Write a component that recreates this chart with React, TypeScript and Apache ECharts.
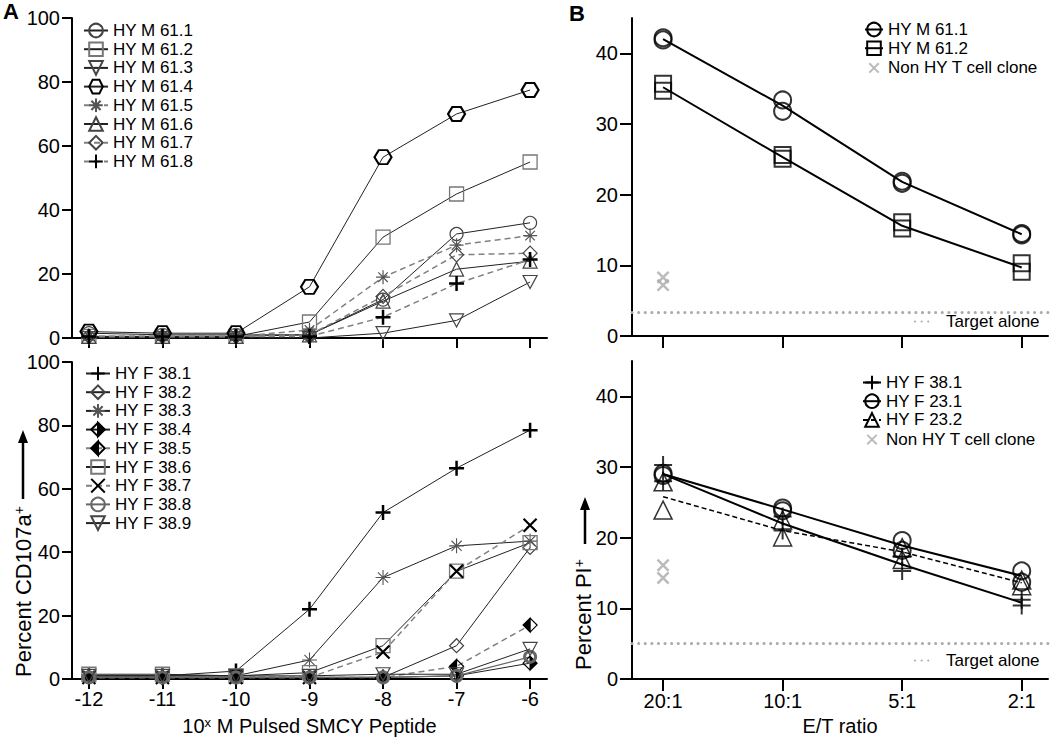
import React, { useEffect, useRef } from 'react';
import * as echarts from 'echarts';

// ---------- Panel A data (percent CD107a+) ----------
const EXPONENTS = [-12, -11, -10, -9, -8, -7, -6];

const M61_1 = [1.5, 1, 1, 1, 12, 32.5, 36];
const M61_2 = [0.5, 0.5, 0.5, 5, 31.5, 45, 55];
const M61_3 = [0, 0, 0, 0, 1.5, 5.5, 17.5];
const M61_4 = [2, 1.5, 1.5, 16, 56.5, 70, 77.5];
const M61_5 = [0.5, 0.5, 0.5, 2.5, 19, 29, 32];
const M61_6 = [0.5, 0.5, 0.5, 1, 11.5, 21.5, 24];
const M61_7 = [0.5, 0.5, 0.5, 1, 13, 26, 26.5];
const M61_8 = [0.5, 0.5, 0.5, 0.5, 6.5, 17, 24.5];

const F38_1 = [1, 1, 2.5, 22, 52.5, 66.5, 78.5];
const F38_2 = [0.5, 0.5, 0.5, 0.5, 0.5, 10.5, 41.5];
const F38_3 = [1, 1, 1, 6, 32, 42, 43.5];
const F38_4 = [0.5, 0.5, 0.5, 0.5, 0.5, 1, 5];
const F38_5 = [0.5, 0.5, 0.5, 0.5, 0.5, 4, 17];
const F38_6 = [1.5, 1.5, 1, 2, 10.5, 34, 43];
const F38_7 = [0.5, 0.5, 0.5, 0.5, 8.5, 34, 48.5];
const F38_8 = [0.5, 0.5, 0.5, 0.5, 0.5, 1, 7];
const F38_9 = [1, 1, 1, 1, 1.5, 1.5, 9.5];

// ---------- Panel B data (percent PI+) ----------
const ET_RATIOS = ['20:1', '10:1', '5:1', '2:1'];

const B_M61_1_LINE = [42, 32.6, 21.8, 14.4];
const B_M61_1_REP1 = [42.2, 33.4, 21.9, 14.5];
const B_M61_1_REP2 = [41.9, 31.8, 21.6, 14.3];
const B_M61_2_LINE = [35.2, 25.3, 15.6, 9.7];
const B_M61_2_REP1 = [35.7, 25.6, 16.1, 10.3];
const B_M61_2_REP2 = [34.7, 25.1, 15.2, 9.1];
const B_TOP_NONHY = [8.3, 7.2];
const B_TOP_TARGET = 3.4;

const B_F38_1_LINE = [29, 22, 16.2, 10.8];
const B_F38_1_REP1 = [30.3, 23, 17.3, 11.2];
const B_F38_1_REP2 = [28, 21, 15.3, 10.4];
const B_F23_1_LINE = [29, 24, 18.9, 14.6];
const B_F23_1_REP1 = [29.1, 24.2, 19.6, 15.3];
const B_F23_1_REP2 = [28.8, 23.8, 18.2, 13.7];
const B_F23_2_LINE = [25.8, 21, 18, 13.6];
const B_F23_2_REP1 = [27.9, 22.5, 18.6, 14];
const B_F23_2_REP2 = [23.9, 20.1, 16.9, 13.2];
const B_BOT_NONHY = [16.1, 14.3];
const B_BOT_TARGET = 5;

const B_TICKS_Y = [0, 10, 20, 30, 40];
const B_TICKS_X = [0, 1, 2, 3];

const FONT = "'Liberation Sans', Arial, Helvetica, sans-serif";

const SYM = {
  hexagon: 'path://M0 5L3 0L9 0L12 5L9 10L3 10Z',
  triDown: 'path://M0 0L10 0L5 9Z',
  asterisk: 'path://M5 0L5 10M0 5L10 5M1.6 1.6L8.4 8.4M8.4 1.6L1.6 8.4',
  plus: 'path://M5 0L5 10M0 5L10 5',
  cross: 'path://M0 0L10 10M10 0L0 10',
  smallCross: 'path://M-4 -4L-4 -4M14 14L14 14M0 0L10 10M10 0L0 10',
  diamondR: 'path://M5 0L10 5L5 10ZM5 0L0 5L5 10L0 5Z',
  diamondL: 'path://M5 0L0 5L5 10ZM5 0L10 5L5 10L10 5Z',
};

const SOLID = { color: '#222', width: 1, type: 'solid' };
const DASH = { color: '#808080', width: 1.5, type: [6, 4] };

function aSeries(name: string, vals: number[], grid: number, symbol: string, size: any,
  border: string, bw: number, fill: string, line: any) {
  return {
    type: 'line', name, xAxisIndex: grid, yAxisIndex: grid,
    data: EXPONENTS.map((x, i) => [x, vals[i]]),
    symbol, symbolSize: size, showSymbol: true,
    itemStyle: { color: fill, borderColor: border, borderWidth: bw },
    lineStyle: line,
    emphasis: { disabled: true },
    z: 3,
  };
}

function bLine(name: string, vals: number[], grid: number, symbol: string, size: any, bw: number, line: any) {
  return {
    type: 'line', name, xAxisIndex: grid, yAxisIndex: grid,
    data: vals.map((v, i) => [i, v]),
    symbol, symbolSize: size, showSymbol: false,
    itemStyle: { color: 'transparent', borderColor: '#000', borderWidth: bw },
    lineStyle: line,
    emphasis: { disabled: true },
    z: 3,
  };
}

function bReps(name: string, reps: number[][], grid: number, symbol: string, size: any, bw: number) {
  return {
    type: 'scatter', name, xAxisIndex: grid, yAxisIndex: grid,
    data: reps.flatMap((r) => r.map((v, i) => [i, v])),
    symbol, symbolSize: size,
    itemStyle: { color: 'transparent', borderColor: '#000', borderWidth: bw },
    emphasis: { disabled: true },
    z: 4,
  };
}

function nonHy(name: string, vals: number[], grid: number) {
  return {
    type: 'scatter', name, xAxisIndex: grid, yAxisIndex: grid,
    data: vals.map((v) => [0, v]),
    symbol: SYM.smallCross, symbolSize: 20,
    itemStyle: { color: 'transparent', borderColor: '#aaa', borderWidth: 2.5 },
    emphasis: { disabled: true },
    z: 4,
  };
}

const DOT = { color: '#aaa', width: 3, type: [0.1, 6.5], cap: 'round' };

function target(name: string, value: number, grid: number) {
  return {
    type: 'line', name, xAxisIndex: grid, yAxisIndex: grid,
    data: [], symbol: 'none',
    itemStyle: { color: 'transparent', borderWidth: 0 },
    lineStyle: DOT,
    markLine: {
      silent: true, symbol: ['none', 'none'], label: { show: false },
      lineStyle: DOT, emphasis: { disabled: true },
      data: [{ yAxis: value }],
    },
    z: 1,
  };
}

const axisLine = { onZero: false, lineStyle: { color: '#000', width: 2 } };
const tickStyle = { color: '#000', width: 2 };
const labelStyle = { fontSize: 20, color: '#000', fontFamily: FONT };

function aX(grid: number, showLabel: boolean) {
  return {
    type: 'value', gridIndex: grid, min: -12.23, max: -5.77,
    axisLine,
    axisTick: { show: true, length: 10, lineStyle: tickStyle, customValues: EXPONENTS },
    axisLabel: { show: showLabel, customValues: EXPONENTS, margin: 10, ...labelStyle },
    splitLine: { show: false },
    ...(showLabel ? {
      name: '10{sup|x} M Pulsed SMCY Peptide', nameLocation: 'middle', nameGap: 37,
      nameTextStyle: {
        fontSize: 20, color: '#000', fontFamily: FONT,
        rich: { sup: { fontSize: 13, color: '#000', fontFamily: FONT, verticalAlign: 'top', lineHeight: 13 } },
      },
    } : {}),
  };
}
function aY(grid: number) {
  return {
    type: 'value', gridIndex: grid, min: 0, max: 100, interval: 20,
    axisLine,
    axisTick: { show: true, length: 10, lineStyle: tickStyle },
    axisLabel: { margin: 12, ...labelStyle },
    splitLine: { show: false },
  };
}
function bX(grid: number, showLabel: boolean) {
  return {
    type: 'value', gridIndex: grid, min: -0.26, max: 3.22,
    axisLine,
    axisTick: { show: true, length: 12, lineStyle: tickStyle, customValues: B_TICKS_X },
    axisLabel: {
      show: showLabel, customValues: B_TICKS_X, margin: 12, ...labelStyle,
      formatter: (v: number) => ET_RATIOS[Math.round(v)] ?? '',
    },
    splitLine: { show: false },
    ...(showLabel ? {
      name: 'E/T ratio', nameLocation: 'middle', nameGap: 37,
      nameTextStyle: { fontSize: 20, color: '#000', fontFamily: FONT },
    } : {}),
  };
}
function bY(grid: number) {
  return {
    type: 'value', gridIndex: grid, min: 0, max: 45,
    axisLine,
    axisTick: { show: true, length: 12, lineStyle: tickStyle, customValues: B_TICKS_Y },
    axisLabel: { margin: 14, customValues: B_TICKS_Y, ...labelStyle },
    splitLine: { show: false },
  };
}

const fmt = (n: string) => n.split('|')[1];
const legendText = { fontSize: 17, color: '#000', fontFamily: FONT, lineHeight: 17 };

function legend(data: string[], left: number, top: number, itemWidth: number, extra: any = {}) {
  return {
    data, left, top, orient: 'vertical', itemWidth, itemHeight: 17, itemGap: 1.7,
    selectedMode: false, formatter: fmt, textStyle: { ...legendText, ...(extra.textStyle || {}) },
    padding: 0,
  };
}

export default function App() {
  const ref = useRef<HTMLDivElement>(null);
  useEffect(() => {
    const chart = echarts.init(ref.current!, null, { renderer: 'svg' });
    const supRich = { sup: { fontSize: 14, color: '#000', fontFamily: FONT, verticalAlign: 'top', lineHeight: 14 } };
    const option: any = {
      animation: false,
      grid: [
        { left: 72, top: 18, width: 475, height: 320 },
        { left: 72, top: 362, width: 475, height: 317 },
        { left: 632, top: 18, width: 416, height: 318 },
        { left: 632, top: 361, width: 416, height: 318 },
      ],
      xAxis: [aX(0, false), aX(1, true), bX(2, false), bX(3, true)],
      yAxis: [aY(0), aY(1), bY(2), bY(3)],
      legend: [
        legend(['a1|HY M 61.1', 'a2|HY M 61.2', 'a3|HY M 61.3', 'a4|HY M 61.4', 'a5|HY M 61.5', 'a6|HY M 61.6', 'a7|HY M 61.7', 'a8|HY M 61.8'], 83, 22, 24),
        legend(['f1|HY F 38.1', 'f2|HY F 38.2', 'f3|HY F 38.3', 'f4|HY F 38.4', 'f5|HY F 38.5', 'f6|HY F 38.6', 'f7|HY F 38.7', 'f8|HY F 38.8', 'f9|HY F 38.9'], 85, 365, 24),
        legend(['b1|HY M 61.1', 'b2|HY M 61.2', 'b3|Non HY T cell clone'], 864, 21, 18),
        legend(['c1|HY F 38.1', 'c2|HY F 23.1', 'c3|HY F 23.2', 'c4|Non HY T cell clone'], 862, 374, 18),
        legend(['t1|Target alone'], 914, 313, 16, { textStyle: { padding: [0, 0, 0, 10] } }),
        legend(['t2|Target alone'], 914, 652, 16, { textStyle: { padding: [0, 0, 0, 10] } }),
      ],
      series: [
        aSeries('a1|HY M 61.1', M61_1, 0, 'circle', 13, '#444', 1.2, 'transparent', SOLID),
        aSeries('a2|HY M 61.2', M61_2, 0, 'rect', 14, '#777', 1.3, 'transparent', SOLID),
        aSeries('a3|HY M 61.3', M61_3, 0, SYM.triDown, [14, 13], '#444', 1.2, 'transparent', SOLID),
        aSeries('a4|HY M 61.4', M61_4, 0, SYM.hexagon, [17, 14], '#000', 2, 'transparent', SOLID),
        aSeries('a5|HY M 61.5', M61_5, 0, SYM.asterisk, 14, '#555', 1.2, 'transparent', DASH),
        aSeries('a6|HY M 61.6', M61_6, 0, 'triangle', 14, '#444', 1.2, 'transparent', SOLID),
        aSeries('a7|HY M 61.7', M61_7, 0, 'diamond', 14, '#444', 1.2, 'transparent', DASH),
        aSeries('a8|HY M 61.8', M61_8, 0, SYM.plus, 15, '#000', 2.5, 'transparent', DASH),

        aSeries('f1|HY F 38.1', F38_1, 1, SYM.plus, 15, '#000', 2.5, 'transparent', SOLID),
        aSeries('f2|HY F 38.2', F38_2, 1, 'diamond', 14, '#444', 1.2, 'transparent', SOLID),
        aSeries('f3|HY F 38.3', F38_3, 1, SYM.asterisk, 15, '#555', 1.1, 'transparent', SOLID),
        aSeries('f4|HY F 38.4', F38_4, 1, SYM.diamondR, 14, '#000', 1.2, '#000', SOLID),
        aSeries('f5|HY F 38.5', F38_5, 1, SYM.diamondL, 14, '#000', 1.2, '#000', DASH),
        aSeries('f6|HY F 38.6', F38_6, 1, 'rect', 14, '#777', 1.3, 'transparent', SOLID),
        aSeries('f7|HY F 38.7', F38_7, 1, SYM.cross, 13, '#000', 2.2, 'transparent', DASH),
        aSeries('f8|HY F 38.8', F38_8, 1, 'circle', 11, '#666', 3, 'transparent', { color: '#666', width: 1.2, type: 'solid' }),
        aSeries('f9|HY F 38.9', F38_9, 1, SYM.triDown, [14, 13], '#444', 1.2, 'transparent', SOLID),

        target('t1|Target alone', B_TOP_TARGET, 2),
        bLine('b1|HY M 61.1', B_M61_1_LINE, 2, 'circle', 17, 2, { color: '#000', width: 2 }),
        bLine('b2|HY M 61.2', B_M61_2_LINE, 2, 'rect', 16, 2, { color: '#000', width: 2 }),
        bReps('r_b1', [B_M61_1_REP1, B_M61_1_REP2], 2, 'circle', 17, 2),
        bReps('r_b2', [B_M61_2_REP1, B_M61_2_REP2], 2, 'rect', 16, 2),
        nonHy('b3|Non HY T cell clone', B_TOP_NONHY, 2),

        target('t2|Target alone', B_BOT_TARGET, 3),
        bLine('c1|HY F 38.1', B_F38_1_LINE, 3, SYM.plus, 18, 2, { color: '#000', width: 2 }),
        bLine('c2|HY F 23.1', B_F23_1_LINE, 3, 'circle', 17, 2, { color: '#000', width: 2 }),
        bLine('c3|HY F 23.2', B_F23_2_LINE, 3, 'triangle', 18, 1.5, { color: '#000', width: 1.5, type: [5, 3] }),
        bReps('r_c1', [B_F38_1_REP1, B_F38_1_REP2], 3, SYM.plus, 18, 2),
        bReps('r_c2', [B_F23_1_REP1, B_F23_1_REP2], 3, 'circle', 17, 2),
        bReps('r_c3', [B_F23_2_REP1, B_F23_2_REP2], 3, 'triangle', 18, 1.5),
        nonHy('c4|Non HY T cell clone', B_BOT_NONHY, 3),
      ],
      graphic: [
        { type: 'text', x: 3, y: 0, style: { text: 'A', font: `bold 22px ${FONT}`, fill: '#000', verticalAlign: 'top' } },
        { type: 'text', x: 569, y: 2, style: { text: 'B', font: `bold 22px ${FONT}`, fill: '#000', verticalAlign: 'top' } },
        {
          type: 'text', x: 23, y: 677, rotation: Math.PI / 2,
          style: { text: 'Percent CD107a{sup|+}', rich: supRich, font: `22px ${FONT}`, fontSize: 22, fontFamily: FONT, fill: '#000', align: 'left', verticalAlign: 'middle' },
        },
        { type: 'line', shape: { x1: 23, y1: 499, x2: 23, y2: 440 }, style: { stroke: '#000', lineWidth: 2.5 } },
        { type: 'polygon', shape: { points: [[18, 443], [28, 443], [23, 430]] }, style: { fill: '#000' } },
        {
          type: 'text', x: 583, y: 670, rotation: Math.PI / 2,
          style: { text: 'Percent PI{sup|+}', rich: supRich, font: `22px ${FONT}`, fontSize: 22, fontFamily: FONT, fill: '#000', align: 'left', verticalAlign: 'middle' },
        },
        { type: 'line', shape: { x1: 585, y1: 544, x2: 585, y2: 507 }, style: { stroke: '#000', lineWidth: 2.5 } },
        { type: 'polygon', shape: { points: [[580, 510], [590, 510], [585, 497]] }, style: { fill: '#000' } },
      ],
    };
    chart.setOption(option);
    return () => chart.dispose();
  }, []);
  return (
    <div
      ref={ref}
      style={{ position: 'fixed', left: 0, top: 0, width: 1050, height: 739, background: '#fff' }}
    />
  );
}
